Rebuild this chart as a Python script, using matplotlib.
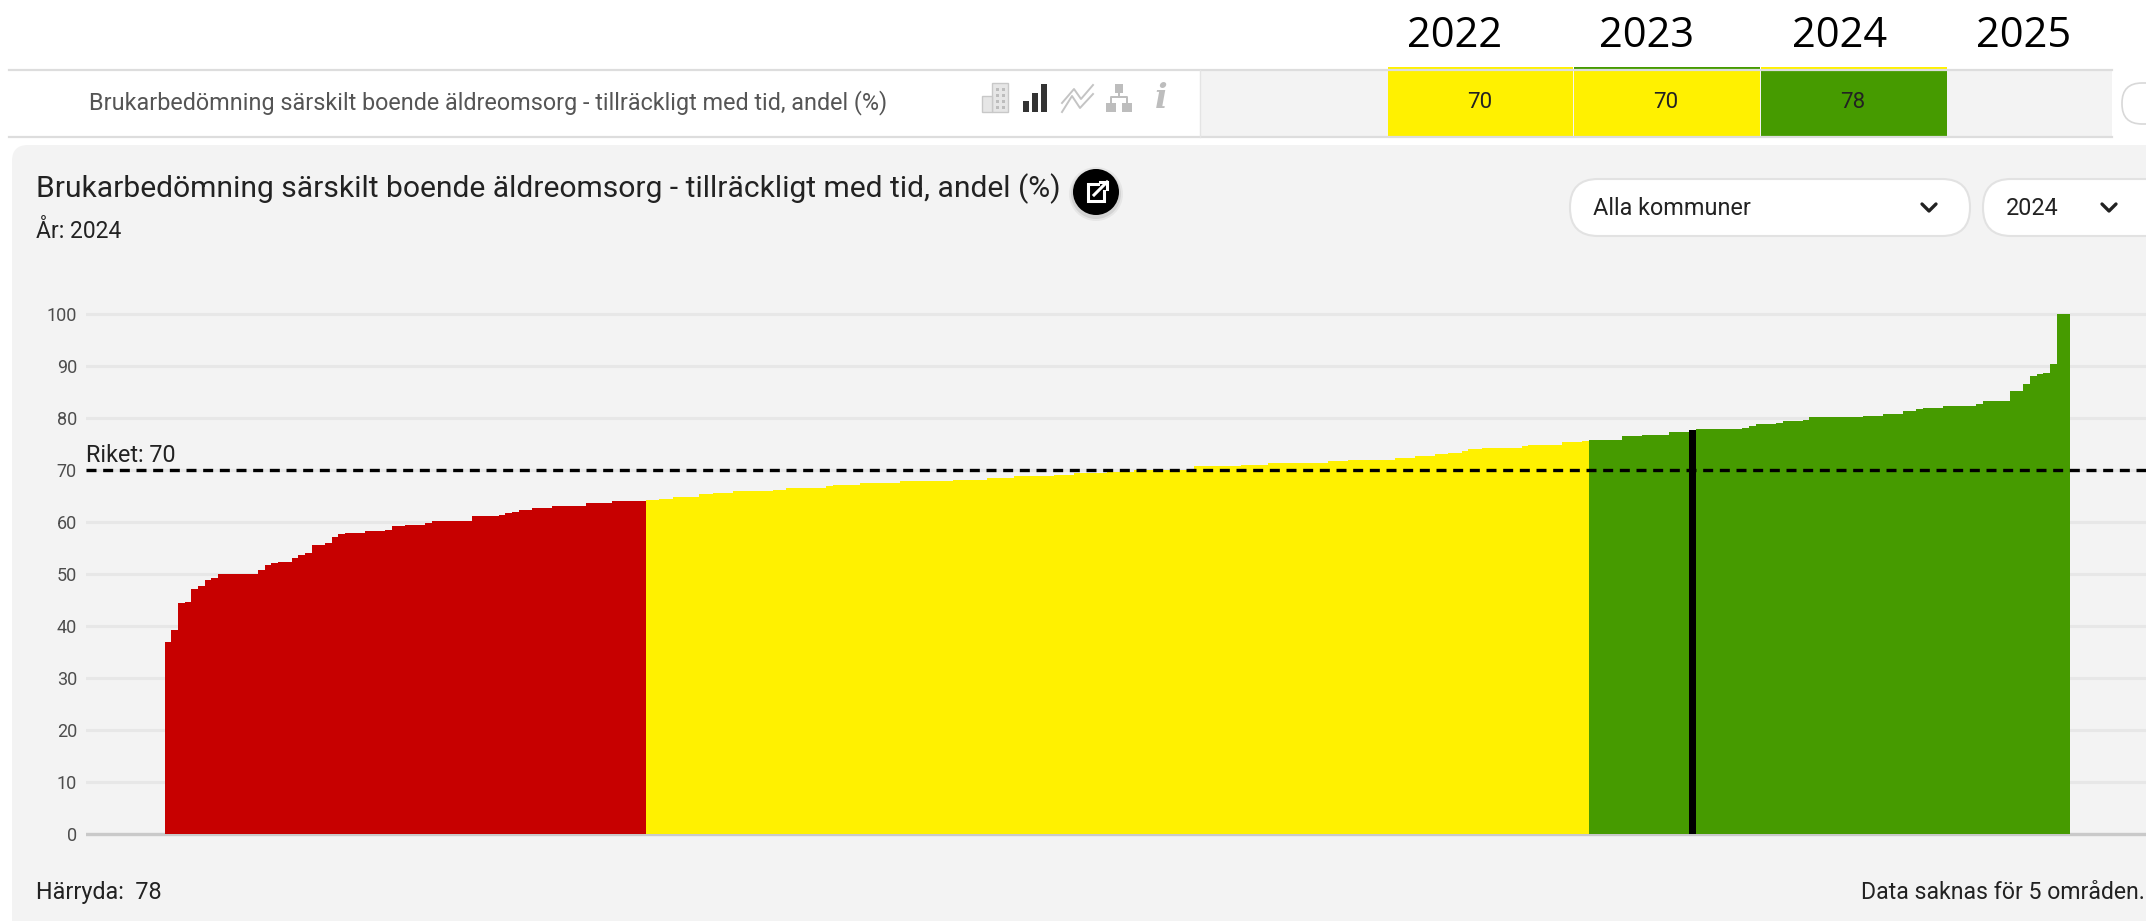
import numpy as np
import matplotlib
matplotlib.use("Agg")
import matplotlib.pyplot as plt
from matplotlib.patches import FancyBboxPatch, Rectangle, Circle

matplotlib.rcParams['font.family'] = ['Roboto', 'DejaVu Sans']

# -----

red_values = [37.0, 39.2, 44.4, 44.7, 47.2, 47.6, 48.9, 49.2, 50.0, 50.0, 50.0, 50.0, 50.0, 50.0,
	50.8, 51.8, 52.1, 52.4, 52.4, 53.1, 53.7, 54.0, 55.6, 55.6, 56.0, 57.2, 57.6, 57.9, 57.9, 57.9,
	58.2, 58.2, 58.2, 58.5, 59.2, 59.2, 59.5, 59.5, 59.5, 59.8, 60.1, 60.1, 60.1, 60.1, 60.1, 60.1,
	61.1, 61.1, 61.1, 61.1, 61.4, 61.7, 62.0, 62.4, 62.4, 62.7, 62.7, 62.7, 63.0, 63.0, 63.0, 63.0, 63.0,
	63.6, 63.6, 63.6, 63.6, 64.0, 64.0, 64.0, 64.0, 64.0]

yellow_values = [64.2, 64.2, 64.5, 64.5, 64.9, 64.9, 64.9, 64.9, 65.3, 65.3, 65.6, 65.6, 65.6,
	65.9, 65.9, 65.9, 65.9, 65.9, 65.9, 66.2, 66.2, 66.5, 66.5, 66.5, 66.5, 66.5, 66.5, 66.9,
	67.2, 67.2, 67.2, 67.2, 67.5, 67.5, 67.5, 67.5, 67.5, 67.5,
	67.8, 67.8, 67.8, 67.8, 67.8, 67.8, 67.8, 67.8, 68.1, 68.1, 68.1, 68.1, 68.1,
	68.5, 68.5, 68.5, 68.5, 68.8, 68.8, 68.8, 68.8, 68.8, 68.8, 69.1, 69.1, 69.1,
	69.4, 69.4, 69.4, 69.4, 69.4, 69.7, 69.7, 69.7, 69.7,
	70.0, 70.0, 70.0, 70.0, 70.0, 70.0, 70.0, 70.0, 70.0,
	70.7, 70.7, 70.7, 70.7, 70.7, 70.7, 70.7, 71.0, 71.0, 71.0, 71.0,
	71.4, 71.4, 71.4, 71.4, 71.4, 71.4, 71.4, 71.4, 71.4, 71.7, 71.7, 71.7,
	72.0, 72.0, 72.0, 72.0, 72.0, 72.0, 72.0, 72.4, 72.4, 72.4, 72.7, 72.7, 72.7,
	73.0, 73.0, 73.3, 73.3, 73.7, 74.0, 74.0, 74.3, 74.3, 74.3, 74.3, 74.3, 74.3, 74.6,
	74.9, 74.9, 74.9, 74.9, 74.9, 75.3, 75.3, 75.3, 75.6]

green_values = [75.8, 75.8, 75.8, 75.8, 75.8, 76.5, 76.5, 76.5, 76.8, 76.8, 76.8, 76.8,
	77.4, 77.4, 77.4, 77.6, 77.8, 77.8, 77.8, 77.8, 77.8, 77.8, 77.8, 78.1, 78.5,
	78.8, 78.8, 78.8, 79.1, 79.4, 79.4, 79.4, 79.7,
	80.1, 80.1, 80.1, 80.1, 80.1, 80.1, 80.1, 80.1, 80.4, 80.4, 80.4, 80.7, 80.7, 80.7,
	81.3, 81.3, 81.7, 82.0, 82.0, 82.0, 82.3, 82.3, 82.3, 82.3, 82.3, 82.6,
	83.3, 83.3, 83.3, 83.3, 85.2, 85.2, 86.5, 88.1, 88.4, 88.7, 90.4, 100.0, 100.0]

highlight_index = 228
riket_value = 70
y_ticks = [0, 10, 20, 30, 40, 50, 60, 70, 80, 90, 100]

header_years = ["2022", "2023", "2024", "2025"]
row_values = ["70", "70", "78"]
row_colors = ["#FFF100", "#FFF100", "#469B00"]
strip_colors = ["#FFF100", "#469B00", "#FFF100"]

row_label = "Brukarbedömning särskilt boende äldreomsorg - tillräckligt med tid, andel (%)"

RED = "#C70000"
YELLOW = "#FFF100"
GREEN = "#469B00"
PANEL = "#F3F3F3"
W, H = 2146, 921

fig = plt.figure(figsize=(W/100, H/100), dpi=100, facecolor="white")

# page furniture is drawn in pixel coordinates
ui = fig.add_axes([0, 0, 1, 1])
ui.set_xlim(0, W)
ui.set_ylim(H, 0)
ui.axis("off")

ui.add_patch(FancyBboxPatch((12+16, 145+16), W, H, boxstyle="round,pad=16,rounding_size=16", fc=PANEL, ec="none"))

# -----  row at the top

ui.add_patch(Rectangle((1200, 70), 912, 67, fc=PANEL, ec="none"))
ui.plot([9, 2112], [70, 70], color="#DDDDDD", lw=1.6)
ui.plot([9, 2112], [137, 137], color="#DDDDDD", lw=1.6)
ui.plot([1200, 1200], [70, 137], color="#E4E4E4", lw=1)

cell_left = [1388, 1574, 1761]
cell_right = [1573, 1760, 1947]
for i in range(3):
	ui.add_patch(Rectangle((cell_left[i], 71), cell_right[i]-cell_left[i], 66, fc=row_colors[i], ec="none"))
	ui.add_patch(Rectangle((cell_left[i], 67.5), cell_right[i]-cell_left[i], 2.5, fc=strip_colors[i], ec="none"))
	ui.text((cell_left[i]+cell_right[i])/2 - 1, 102, row_values[i], fontsize=16, color="#222222", ha="center", va="center")

year_x = [1455, 1647, 1840, 2024]
for i in range(4):
	ui.text(year_x[i], 36, header_years[i], family="Open Sans", fontsize=30, color="black", ha="center", va="center")

ui.text(89, 103, row_label, fontsize=16.8, color="#555555", ha="left", va="center")

# small icons in the row
ui.add_patch(Rectangle((992, 83), 16, 29, fc="#E6E6E6", ec="#C8C8C8", lw=1))
ui.add_patch(Rectangle((982, 96), 10, 16, fc="#E6E6E6", ec="#C8C8C8", lw=1))
for bx in [996, 1002]:
	for by in [88, 94, 100, 106]:
		ui.add_patch(Rectangle((bx, by), 3, 3, fc="#BDBDBD", ec="none"))
ui.add_patch(Rectangle((1023, 101), 6, 11, fc="#333333", ec="none"))
ui.add_patch(Rectangle((1032, 93), 6, 19, fc="#333333", ec="none"))
ui.add_patch(Rectangle((1041, 84), 6, 28, fc="#333333", ec="none"))
ui.plot([1062, 1074, 1081, 1093], [103, 89, 99, 85], color="#C4C4C4", lw=1.4)
ui.plot([1062, 1072, 1080, 1093], [112, 96, 108, 94], color="#C4C4C4", lw=1.4)
ui.add_patch(Rectangle((1115, 84), 8, 9, fc="#BDBDBD", ec="none"))
ui.add_patch(Rectangle((1106, 103), 10, 9, fc="#BDBDBD", ec="none"))
ui.add_patch(Rectangle((1122, 103), 10, 9, fc="#BDBDBD", ec="none"))
ui.plot([1111, 1111, 1127, 1127], [103, 97, 97, 103], color="#BDBDBD", lw=1.4)
ui.plot([1119, 1119], [93, 97], color="#BDBDBD", lw=1.4)
ui.text(1161, 98, "i", family="DejaVu Serif", fontsize=24, fontweight="bold", style="italic", color="#BDBDBD", ha="center", va="center")

# partial round button at the right of the row
ui.add_patch(FancyBboxPatch((2142, 103), 60, 1, boxstyle="round,pad=20,rounding_size=20", fc="white", ec="#D8D8D8", lw=1.2))

# -----  panel heading and controls

ui.text(36, 188.5, row_label, fontsize=21.65, color="#222222", ha="left", va="center")
ui.text(36, 231, "År: 2024", fontsize=16.5, color="#222222", ha="left", va="center")

for r, a in [(27, 0.05), (25, 0.08)]:
	ui.add_patch(Circle((1096, 194), r, fc="black", ec="none", alpha=a))
ui.add_patch(Circle((1096, 192), 23, fc="black", ec="none"))
ui.plot([1098, 1088, 1088, 1104, 1104], [184, 184, 201, 201, 191], color="white", lw=2.2, solid_joinstyle="miter")
ui.plot([1094, 1107], [195, 182], color="white", lw=2.2)
ui.plot([1100, 1107, 1107], [182, 182, 189], color="white", lw=2.2, solid_joinstyle="miter")

ui.add_patch(FancyBboxPatch((1598, 207), 344, 1, boxstyle="round,pad=28,rounding_size=28", fc="white", ec="#E2E2E2", lw=1.5))
ui.add_patch(FancyBboxPatch((2011, 207), 170, 1, boxstyle="round,pad=28,rounding_size=28", fc="white", ec="#E2E2E2", lw=1.5))
ui.text(1593, 208.5, "Alla kommuner", fontsize=16.8, color="#222222", ha="left", va="center")
ui.text(2006, 208.5, "2024", fontsize=16.8, color="#222222", ha="left", va="center")
for cx in [1929, 2109]:
	ui.plot([cx-7, cx, cx+7], [204, 211, 204], color="#222222", lw=2.4, solid_capstyle="round")

# -----  bar chart

values = red_values + yellow_values + green_values
colors = [RED]*len(red_values) + [YELLOW]*len(yellow_values) + [GREEN]*len(green_values)
colors[highlight_index] = "black"
x = np.arange(len(values))

y0_px = 834.0
px_per_unit = 5.2
y_min, y_max = -2, 102
bar_px = 6.686
bar_left_px = 164.5
ax_left, ax_right = 86, W
ax_bottom_px = y0_px - y_min*px_per_unit
ax_top_px = y0_px - y_max*px_per_unit

ax = fig.add_axes([ax_left/W, (H-ax_bottom_px)/H, (ax_right-ax_left)/W, (ax_bottom_px-ax_top_px)/H])
ax.patch.set_alpha(0)
ax.set_xlim((ax_left-bar_left_px)/bar_px - 0.5, (ax_right-bar_left_px)/bar_px - 0.5)
ax.set_ylim(y_min, y_max)

ax.bar(x, values, width=1.0, color=colors, linewidth=0, antialiased=False, zorder=3)
ax.axhline(0, color="#C9C9C9", lw=2.4, zorder=2)
ax.axhline(riket_value, color="black", lw=2.4, dashes=(3.0, 2.0), zorder=4, dash_capstyle="butt")

for s in ax.spines.values():
	s.set_visible(False)
ax.set_xticks([])
ax.set_yticks(y_ticks)
ax.yaxis.grid(True, color="#E7E7E7", lw=2.2, zorder=1)
ax.set_axisbelow(True)
ax.tick_params(axis="y", length=0, pad=6.5, labelsize=13, labelcolor="#4D4D4D")

ax.annotate("Riket: %d" % riket_value, xy=(0, riket_value), xycoords=("axes fraction", "data"), xytext=(0, 2.5),
	textcoords="offset points", fontsize=16.8, color="#222222", ha="left", va="bottom")

ui.text(36, 892, "Härryda:  78", fontsize=16.8, color="#222222", ha="left", va="center")
ui.text(2145, 892, "Data saknas för 5 områden.", fontsize=16.6, color="#222222", ha="right", va="center")

plt.savefig("out.png", dpi=100)
